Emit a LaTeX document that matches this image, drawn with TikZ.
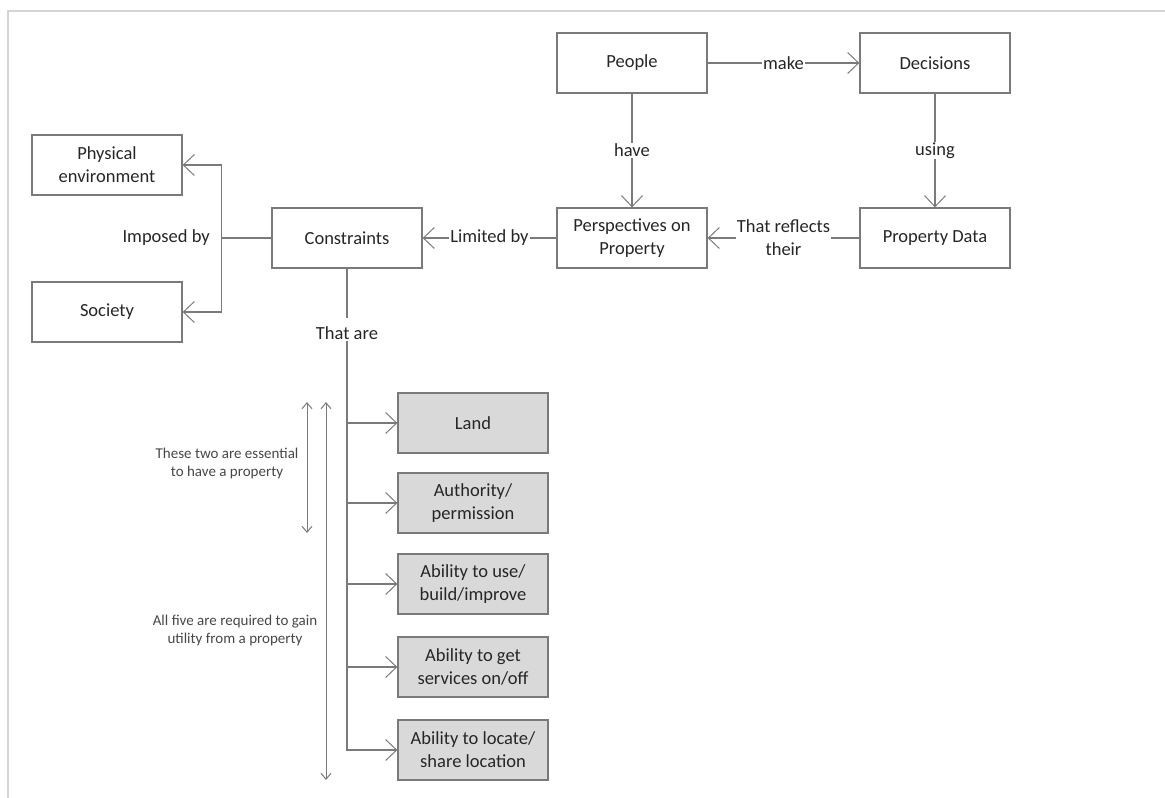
\documentclass[tikz,border=0pt]{standalone}
\usepackage{fontspec}
\setmainfont{Carlito}
\usetikzlibrary{arrows.meta}
\definecolor{linegray}{HTML}{7A7A7A}
\definecolor{framegray}{HTML}{D4D4D4}
\definecolor{boxfill}{HTML}{D9D9D9}
\definecolor{textdark}{HTML}{262626}
\begin{document}
\begin{tikzpicture}[x=1pt,y=-1pt,
  every node/.style={text=textdark,font=\fontsize{18.5}{23}\selectfont},
  box/.style={draw=linegray,line width=1.3pt,minimum width=150pt,minimum height=60pt,align=center,inner sep=2pt},
  graybox/.style={box,fill=boxfill},
  conn/.style={draw=linegray,line width=1.3pt,-{Straight Barb[length=11pt,width=21pt,line width=1pt]}},
  plain/.style={draw=linegray,line width=1.3pt},
  span/.style={draw=linegray,line width=1pt,{Straight Barb[length=6pt,width=10pt]}-{Straight Barb[length=6pt,width=10pt]}},
  lbl/.style={fill=white,inner sep=1pt,align=center},
  note/.style={align=center,font=\fontsize{15}{18}\selectfont,text=textdark!85}]
\useasboundingbox (0,0) rectangle (1165,798);
% light frame along the top and left edges
\draw[framegray,line width=1.2pt] (8,798) -- (8,11) -- (1165,11);

% main chain
\node[box] (people) at (632,63) {People};
\node[box] (dec) at (935,63) {Decisions};
\node[box] (persp) at (632,238) {Perspectives on\\Property};
\node[box] (pdata) at (935,238) {Property Data};
\node[box] (cons) at (347,238) {Constraints};
\node[box] (phys) at (107,165) {Physical\\environment};
\node[box] (soc) at (107,312) {Society};

\draw[conn] (people) -- node[lbl] {make} (dec);
\draw[conn] (people) -- node[lbl] {have} (persp);
\draw[conn] (dec) -- node[lbl] {using} (pdata);
\draw[conn] (pdata) -- node[lbl] {That reflects\\their} (persp);
\draw[conn] (persp) -- node[lbl] {Limited by} (cons);

% constraints imposed by
\draw[plain] (cons.west) -- ++(-50,0) coordinate (imp);
\draw[conn] (imp) |- (phys.east);
\draw[conn] (imp) |- (soc.east);
\node[anchor=east] (implbl) at ([xshift=-8pt]imp) {Imposed by};

% the five constraint kinds
\node[graybox] (land) at (473,423) {Land};
\node[graybox] (auth) at (473,503) {Authority/\\permission};
\node[graybox] (use) at (473,584) {Ability to use/\\build/improve};
\node[graybox] (serv) at (473,667) {Ability to get\\services on/off};
\node[graybox] (loc) at (473,750) {Ability to locate/\\share location};

\draw[plain] (cons.south) -- (cons.south |- 0,318);
\node[fill=white,inner sep=1pt] (thatare) at (347,333) {That are};
\draw[conn] (thatare.south) |- (loc.west);
\draw[conn] (cons.south |- land.west) -- (land.west);
\draw[conn] (cons.south |- auth.west) -- (auth.west);
\draw[conn] (cons.south |- use.west) -- (use.west);
\draw[conn] (cons.south |- serv.west) -- (serv.west);

% extent markers
\coordinate (twotop) at (307,402);
\coordinate (twobot) at (307,533);
\coordinate (fivetop) at (326,402);
\coordinate (fivebot) at (326,780);
\draw[span] (twotop) -- (twobot);
\draw[span] (fivetop) -- (fivebot);
\node[note] (twonote) at (227,463) {These two are essential\\to have a property};
\node[note] (fivenote) at (235,630) {All five are required to gain\\utility from a property};
\end{tikzpicture}
\end{document}
